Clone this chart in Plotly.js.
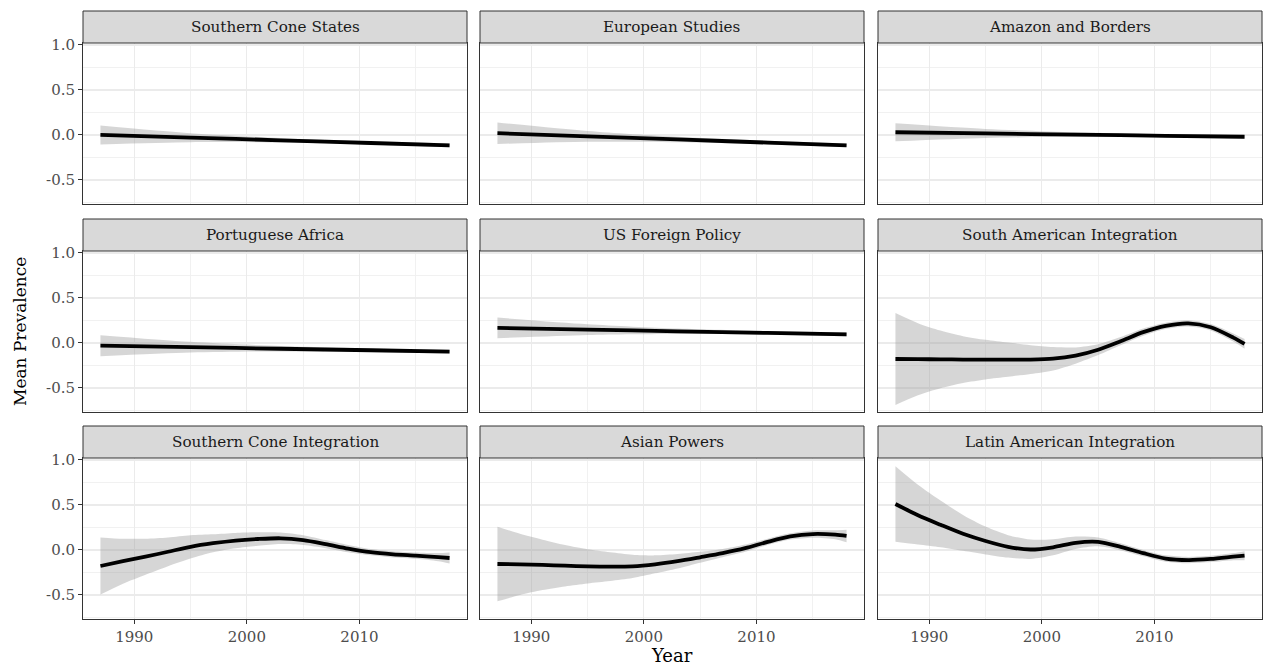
<!DOCTYPE html>
<html>
<head>
<meta charset="utf-8">
<script src="https://cdn.plot.ly/plotly-3.0.1.min.js"></script>
<style>html,body{margin:0;padding:0;background:#fff;}#chart{width:1269px;height:666px;}</style>
</head>
<body>
<div id="chart"></div>
<script>
// ---------- DATA ----------
const panelNames = ["Southern Cone States", "European Studies", "Amazon and Borders",
  "Portuguese Africa", "US Foreign Policy", "South American Integration",
  "Southern Cone Integration", "Asian Powers", "Latin American Integration"];

const xTickVals = [1990, 2000, 2010];
const xTickText = ["1990", "2000", "2010"];
const xMinorVals = [1995, 2005, 2015];
const yTickVals = [-0.5, 0, 0.5, 1.0];
const yTickText = ["-0.5", "0.0", "0.5", "1.0"];
const yMinorVals = [-0.75, -0.25, 0.25, 0.75];

const yearsLinear = [1987, 1995, 2003, 2011, 2018];
const yearsSmooth = [1987, 1989, 1991, 1993, 1995, 1997, 1999, 2001, 2003, 2005, 2007, 2009, 2011, 2013, 2015, 2017, 2018];

const southernConeStatesMean = [0.0, -0.03, -0.059, -0.089, -0.115];
const southernConeStatesHi   = [0.105, 0.02, -0.034, -0.071, -0.093];
const southernConeStatesLo   = [-0.105, -0.08, -0.084, -0.107, -0.137];

const europeanStudiesMean = [0.02, -0.015, -0.05, -0.085, -0.115];
const europeanStudiesHi   = [0.14, 0.045, -0.02, -0.065, -0.095];
const europeanStudiesLo   = [-0.10, -0.075, -0.08, -0.105, -0.135];

const amazonBordersMean = [0.03, 0.017, 0.004, -0.009, -0.02];
const amazonBordersHi   = [0.13, 0.067, 0.029, 0.009, 0.0];
const amazonBordersLo   = [-0.07, -0.033, -0.021, -0.027, -0.04];

const portugueseAfricaMean = [-0.03, -0.047, -0.064, -0.081, -0.096];
const portugueseAfricaHi   = [0.087, 0.013, -0.034, -0.061, -0.074];
const portugueseAfricaLo   = [-0.147, -0.107, -0.094, -0.101, -0.118];

const usForeignPolicyMean = [0.167, 0.149, 0.13, 0.112, 0.096];
const usForeignPolicyHi   = [0.282, 0.209, 0.16, 0.132, 0.118];
const usForeignPolicyLo   = [0.052, 0.089, 0.10, 0.092, 0.074];

const southAmIntegrationMean = [-0.178, -0.18, -0.182, -0.184, -0.185, -0.186, -0.185, -0.175, -0.14, -0.075, 0.02, 0.12, 0.19, 0.218, 0.175, 0.06, -0.01];
const southAmIntegrationHi   = [0.332, 0.22, 0.138, 0.076, 0.035, 0.004, -0.025, -0.045, -0.05, -0.015, 0.065, 0.16, 0.225, 0.253, 0.21, 0.105, 0.045];
const southAmIntegrationLo   = [-0.688, -0.58, -0.502, -0.444, -0.405, -0.376, -0.345, -0.305, -0.23, -0.135, -0.025, 0.08, 0.155, 0.183, 0.14, 0.015, -0.065];

const southernConeIntMean = [-0.178, -0.125, -0.075, -0.02, 0.035, 0.075, 0.105, 0.122, 0.13, 0.11, 0.065, 0.015, -0.025, -0.048, -0.063, -0.08, -0.089];
const southernConeIntHi   = [0.14, 0.125, 0.125, 0.14, 0.165, 0.175, 0.19, 0.197, 0.195, 0.165, 0.11, 0.055, 0.01, -0.013, -0.028, -0.035, -0.029];
const southernConeIntLo   = [-0.496, -0.375, -0.275, -0.18, -0.095, -0.025, 0.02, 0.047, 0.065, 0.055, 0.02, -0.025, -0.06, -0.083, -0.098, -0.125, -0.149];

const asianPowersMean = [-0.156, -0.16, -0.166, -0.175, -0.182, -0.185, -0.182, -0.16, -0.125, -0.081, -0.035, 0.02, 0.09, 0.15, 0.177, 0.17, 0.156];
const asianPowersHi   = [0.259, 0.18, 0.114, 0.055, 0.008, -0.025, -0.052, -0.06, -0.045, -0.021, 0.01, 0.06, 0.125, 0.185, 0.217, 0.22, 0.226];
const asianPowersLo   = [-0.571, -0.5, -0.446, -0.405, -0.372, -0.345, -0.312, -0.26, -0.205, -0.141, -0.08, -0.02, 0.055, 0.115, 0.137, 0.12, 0.086];

const latinAmIntegrationMean = [0.511, 0.385, 0.28, 0.18, 0.1, 0.035, 0.005, 0.03, 0.08, 0.09, 0.035, -0.035, -0.095, -0.112, -0.1, -0.075, -0.063];
const latinAmIntegrationHi   = [0.931, 0.725, 0.55, 0.39, 0.26, 0.165, 0.115, 0.12, 0.15, 0.14, 0.075, 0.0, -0.06, -0.077, -0.065, -0.035, -0.013];
const latinAmIntegrationLo   = [0.091, 0.06, 0.03, -0.01, -0.05, -0.085, -0.1, -0.06, 0.01, 0.04, -0.005, -0.07, -0.13, -0.147, -0.135, -0.115, -0.113];

const panels = [
  {x: yearsLinear, m: southernConeStatesMean, hi: southernConeStatesHi, lo: southernConeStatesLo},
  {x: yearsLinear, m: europeanStudiesMean, hi: europeanStudiesHi, lo: europeanStudiesLo},
  {x: yearsLinear, m: amazonBordersMean, hi: amazonBordersHi, lo: amazonBordersLo},
  {x: yearsLinear, m: portugueseAfricaMean, hi: portugueseAfricaHi, lo: portugueseAfricaLo},
  {x: yearsLinear, m: usForeignPolicyMean, hi: usForeignPolicyHi, lo: usForeignPolicyLo},
  {x: yearsSmooth, m: southAmIntegrationMean, hi: southAmIntegrationHi, lo: southAmIntegrationLo},
  {x: yearsSmooth, m: southernConeIntMean, hi: southernConeIntHi, lo: southernConeIntLo},
  {x: yearsSmooth, m: asianPowersMean, hi: asianPowersHi, lo: asianPowersLo},
  {x: yearsSmooth, m: latinAmIntegrationMean, hi: latinAmIntegrationHi, lo: latinAmIntegrationLo}
];

// ---------- LAYOUT ----------
const W = 1269, H = 666;
const colL = [83, 480, 878], colR = [467, 864, 1262];
const rowT = [43, 251, 458], rowB = [204, 412, 619];
const stripH = 32;
const FONT = "DejaVu Serif, Liberation Serif, serif";

const traces = [];
const layout = {
  width: W, height: H,
  margin: {l: 0, r: 0, t: 0, b: 0},
  paper_bgcolor: "#ffffff", plot_bgcolor: "#ffffff",
  showlegend: false,
  font: {family: FONT, color: "#4D4D4D"},
  shapes: [], annotations: []
};

panels.forEach((p, i) => {
  const r = Math.floor(i / 3), c = i % 3;
  const sfx = i === 0 ? "" : String(i + 1);
  const xa = "x" + sfx, ya = "y" + sfx;
  const spline = {shape: "spline", smoothing: 0.8};
  traces.push({x: p.x, y: p.lo, xaxis: xa, yaxis: ya, mode: "lines",
    line: Object.assign({width: 0, color: "rgba(0,0,0,0)"}, spline), hoverinfo: "skip"});
  traces.push({x: p.x, y: p.hi, xaxis: xa, yaxis: ya, mode: "lines", fill: "tonexty",
    fillcolor: "rgba(153,153,153,0.4)",
    line: Object.assign({width: 0, color: "rgba(0,0,0,0)"}, spline), hoverinfo: "skip"});
  traces.push({x: p.x, y: p.m, xaxis: xa, yaxis: ya, mode: "lines",
    line: Object.assign({width: 3.8, color: "#000000"}, spline)});

  layout["xaxis" + sfx] = {
    domain: [colL[c] / W, colR[c] / W], anchor: ya,
    range: [1985.45, 2019.55], autorange: false,
    tickmode: "array", tickvals: xTickVals, ticktext: xTickText,
    showticklabels: r === 2, ticks: r === 2 ? "outside" : "", ticklen: 4, tickwidth: 1, tickcolor: "#333333",
    tickfont: {family: FONT, size: 15, color: "#4D4D4D"},
    showgrid: true, gridcolor: "#EBEBEB", gridwidth: 1.1,
    minor: {tickmode: "array", tickvals: xMinorVals, showgrid: true, gridcolor: "#EFEFEF", gridwidth: 0.9, ticks: ""},
    zeroline: false, showline: true, mirror: true, linecolor: "#333333", linewidth: 1
  };
  layout["yaxis" + sfx] = {
    domain: [1 - rowB[r] / H, 1 - rowT[r] / H], anchor: xa,
    range: [-0.767, 1.022], autorange: false,
    tickmode: "array", tickvals: yTickVals, ticktext: yTickText,
    showticklabels: c === 0, ticks: c === 0 ? "outside" : "", ticklen: 4, tickwidth: 1, tickcolor: "#333333",
    tickfont: {family: FONT, size: 15, color: "#4D4D4D"},
    showgrid: true, gridcolor: "#EBEBEB", gridwidth: 1.1,
    minor: {tickmode: "array", tickvals: yMinorVals, showgrid: true, gridcolor: "#EFEFEF", gridwidth: 0.9, ticks: ""},
    zeroline: false, showline: true, mirror: true, linecolor: "#333333", linewidth: 1
  };

  // strip
  layout.shapes.push({type: "rect", xref: "paper", yref: "paper",
    x0: colL[c] / W, x1: colR[c] / W,
    y0: 1 - rowT[r] / H, y1: 1 - (rowT[r] - stripH) / H,
    fillcolor: "#D9D9D9", line: {color: "#333333", width: 1}, layer: "above"});
  layout.annotations.push({xref: "paper", yref: "paper",
    x: (colL[c] + colR[c]) / 2 / W, y: 1 - (rowT[r] - stripH / 2) / H,
    xanchor: "center", yanchor: "middle", showarrow: false,
    text: panelNames[i], font: {family: FONT, size: 15.2, color: "#1A1A1A"}});
});

layout.annotations.push({xref: "paper", yref: "paper", x: 20 / W, y: 1 - 332 / H,
  xanchor: "center", yanchor: "middle", showarrow: false, textangle: -90,
  text: "Mean Prevalence", font: {family: FONT, size: 17, color: "#000000"}});
layout.annotations.push({xref: "paper", yref: "paper", x: 672 / W, y: 1 - 655 / H,
  xanchor: "center", yanchor: "middle", showarrow: false,
  text: "Year", font: {family: FONT, size: 18, color: "#000000"}});

Plotly.newPlot("chart", traces, layout, {staticPlot: true, displayModeBar: false});
</script>
</body>
</html>
